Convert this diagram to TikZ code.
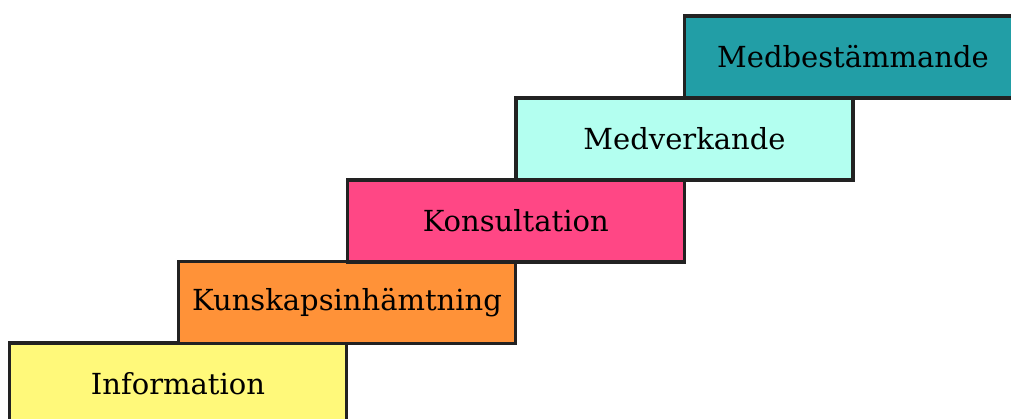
\documentclass[tikz,border=0pt]{standalone}
\usepackage{fontspec}
\setmainfont{DejaVu Serif}
\definecolor{cYellow}{RGB}{255,249,122}
\definecolor{cOrange}{RGB}{255,146,56}
\definecolor{cPink}{RGB}{255,71,133}
\definecolor{cCyan}{RGB}{179,255,240}
\definecolor{cTeal}{RGB}{34,158,166}
\definecolor{cBorder}{RGB}{34,34,34}
\begin{document}
\begin{tikzpicture}[x=1pt,y=1pt,
  stair/.style={draw=cBorder, line width=3.2pt, minimum width=337pt, minimum height=82pt,
    inner sep=0pt, font=\fontsize{29}{34}\selectfont, text=black, anchor=center}]
\useasboundingbox (0,0) rectangle (1011,419);
\clip (0,0) rectangle (1011,419);
\node[stair, fill=cYellow] (s1) at (178,35) {Information};
\node[stair, fill=cOrange] (s2) at (347,116.5) {Kunskapsinhämtning};
\node[stair, fill=cPink] (s3) at (515.75,198) {Konsultation};
\node[stair, fill=cCyan] (s4) at (684.5,280) {Medverkande};
\node[stair, fill=cTeal] (s5) at (853,362) {Medbestämmande};
\end{tikzpicture}
\end{document}
